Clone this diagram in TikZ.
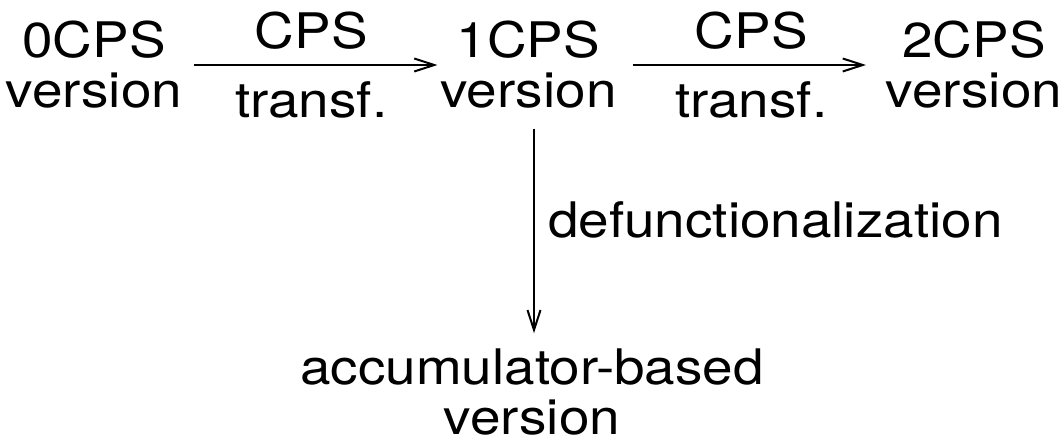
\documentclass[tikz,border=0pt]{standalone}
\usepackage{fontspec}
\setmainfont{TeX Gyre Heros}[FakeStretch=1.12]
\usetikzlibrary{arrows.meta}
\tikzset{
  stage/.style={inner sep=0pt, outer sep=0pt, align=center,
    font=\fontsize{24.5}{25}\selectfont},
  lbl/.style={inner sep=0pt, font=\fontsize{24.5}{25}\selectfont},
  trans/.style={line width=1pt, -{Straight Barb[length=10pt,width=6.5pt,line width=1pt]}},
}
\begin{document}
\begin{tikzpicture}[x=0.5pt,y=-0.5pt]
  \useasboundingbox (0,0) rectangle (1061,443);
  % program versions
  \node[stage] (v0)  at (94,65)    {0CPS\\version};
  \node[stage] (v1)  at (528.5,65) {1CPS\\version};
  \node[stage] (v2)  at (974,65)   {2CPS\\version};
  \node[stage] (acc) at (532,392.5) {accumulator-based\\version};
  % transformations
  \draw[trans, shorten <=6pt, shorten >=1.5pt] (v0.east) -- (v1.west)
    node[lbl, midway, anchor=base, yshift=8pt] (c1) {CPS}
    node[lbl, midway, anchor=base, yshift=-26.5pt] (t1) {transf.};
  \draw[trans, shorten <=8pt, shorten >=10pt] (v1.east) -- (v2.west)
    node[lbl, midway, anchor=base, yshift=8pt] (c2) {CPS}
    node[lbl, midway, anchor=base, yshift=-26.5pt] (t2) {transf.};
  \draw[trans, shorten <=10pt, shorten >=8pt]
    ([xshift=2.75pt]v1.south) -- ([xshift=2.75pt]v1.south |- acc.north)
    node[lbl, midway, anchor=base west, xshift=6.5pt, yshift=-4.5pt] (df) {defunctionalization};
\end{tikzpicture}
\end{document}
